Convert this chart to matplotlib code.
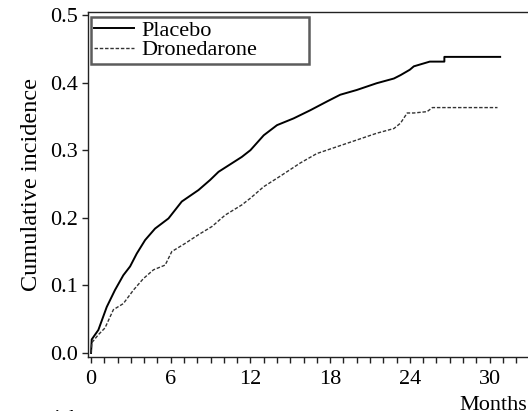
import numpy as np
import matplotlib
matplotlib.use("Agg")
import matplotlib.pyplot as plt

# values (months, cumulative incidence)
placebo_months = [0, 0.05, 0.55, 1.18, 1.8, 2.43, 2.94, 3.44, 4.07, 4.82, 5.83,
                  6.83, 8.09, 8.97, 9.6, 11.35, 12.0, 13.0, 14.0, 15.25, 16.5,
                  17.76, 18.76, 20.0, 21.5, 22.8, 23.3, 24.0, 24.3, 25.5, 26.6,
                  26.6, 30.8]
placebo_inc = [0, 0.02, 0.034, 0.068, 0.093, 0.115, 0.128, 0.147, 0.167, 0.184,
               0.199, 0.224, 0.241, 0.256, 0.268, 0.29, 0.30, 0.322, 0.337,
               0.347, 0.359, 0.372, 0.382, 0.389, 0.399, 0.406, 0.411, 0.419,
               0.424, 0.431, 0.431, 0.438, 0.438]

drone_months = [0, 0.05, 0.55, 1.05, 1.68, 2.43, 3.19, 3.94, 4.7, 5.58, 6.08,
                7.08, 8.09, 9.1, 10.1, 11.35, 12.0, 13.0, 14.2, 15.75, 17.0,
                18.5, 20.0, 21.5, 22.8, 23.3, 23.8, 24.3, 25.3, 25.7, 30.6]
drone_inc = [0, 0.015, 0.027, 0.037, 0.064, 0.073, 0.093, 0.11, 0.123, 0.13,
             0.15, 0.162, 0.175, 0.187, 0.204, 0.219, 0.229, 0.246, 0.261,
             0.281, 0.295, 0.305, 0.315, 0.325, 0.332, 0.34, 0.355, 0.355,
             0.357, 0.363, 0.363]

x_ticks = [0, 6, 12, 18, 24, 30]
y_ticks = [0.0, 0.1, 0.2, 0.3, 0.4, 0.5]

plt.rcParams['font.family'] = ['Liberation Serif', 'DejaVu Serif']
FS = 16

W, H = 528, 411
fig = plt.figure(figsize=(W / 100, H / 100), dpi=100)

# axes box in pixels: left 88, right 540 (runs off the canvas), top 12, bottom 357
ax_l, ax_r, ax_t, ax_b = 88, 540, 12, 357
ax = fig.add_axes([ax_l / W, 1 - ax_b / H, (ax_r - ax_l) / W, (ax_b - ax_t) / H])

ax.plot(placebo_months, placebo_inc, color='black', lw=1.4, label='Placebo')
ax.plot(drone_months, drone_inc, color='#333333', lw=1.0, dashes=(2.5, 1.3),
        label='Dronedarone')

ax.set_xlim(-0.23, 33.8)
ax.set_ylim(-0.006, 0.5044)
ax.set_xticks(x_ticks)
ax.set_xticks(np.arange(0, 34, 1), minor=True)
ax.set_yticks(y_ticks)
ax.set_yticklabels([f"{v:.1f}" for v in y_ticks])

for s in ax.spines.values():
    s.set_linewidth(1.0)
    s.set_color('#222222')

ax.tick_params(axis='both', which='both', direction='out', length=4, width=1,
               color='#222222', labelsize=FS)
ax.tick_params(axis='x', pad=5)
ax.tick_params(axis='y', pad=3)

ax.set_ylabel('Cumulative incidence', fontsize=17.5, labelpad=6)

leg = ax.legend(loc='upper left', bbox_to_anchor=(0.0066, 0.858, 0.482, 0.1275),
                mode='expand', borderaxespad=0, fontsize=FS, frameon=True,
                fancybox=False, edgecolor='#333333', handlelength=1.8,
                handletextpad=0.3, borderpad=0.15, labelspacing=-0.05)
leg.get_frame().set_linewidth(1.8)

fig.text(459 / W, 0.003, 'Months', fontsize=FS, ha='left', va='baseline')
fig.text(80 / W, 1 - 410 / H, 'Number at risk', fontsize=FS, ha='right', va='top')

fig.savefig('out.png', dpi=100)
